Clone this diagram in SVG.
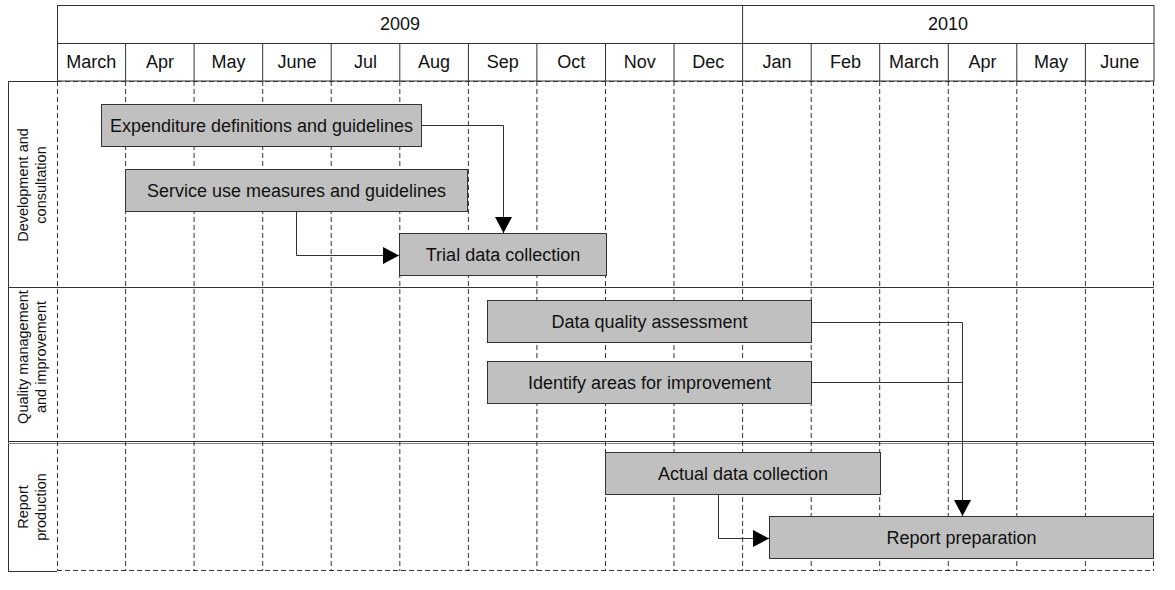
<svg xmlns="http://www.w3.org/2000/svg" width="1175" height="590" viewBox="0 0 1175 590">
<style>
.t{font-family:"Liberation Sans",Arial,sans-serif;font-size:18px;fill:#111;text-anchor:middle}
.l{font-family:"Liberation Sans",Arial,sans-serif;font-size:14.5px;fill:#111;text-anchor:middle}
.s{stroke:#333;stroke-width:1;fill:none}
.d{stroke:#333;stroke-width:1;fill:none;stroke-dasharray:5,3}
.bar{fill:#c0c0c0;stroke:#333;stroke-width:1}
.c{stroke:#333;stroke-width:1;fill:none}
</style>
<defs>
<marker id="ah" markerUnits="userSpaceOnUse" markerWidth="18" markerHeight="18" refX="16" refY="8.5" orient="auto">
<path d="M0,0 L16,8.5 L0,17 Z" fill="#000"/>
</marker>
</defs>
<rect width="1175" height="590" fill="#fff"/>
<g id="header">
<rect class="s" x="57.5" y="5.5" width="1096.5" height="75.5"/>
<line class="s" x1="57.5" y1="43.5" x2="1154" y2="43.5"/>
<line class="s" x1="742.6" y1="5.5" x2="742.6" y2="43.5"/>
<g class="s">
<line x1="125.6" y1="43.5" x2="125.6" y2="81"/>
<line x1="194.1" y1="43.5" x2="194.1" y2="81"/>
<line x1="262.7" y1="43.5" x2="262.7" y2="81"/>
<line x1="331.2" y1="43.5" x2="331.2" y2="81"/>
<line x1="399.8" y1="43.5" x2="399.8" y2="81"/>
<line x1="468.4" y1="43.5" x2="468.4" y2="81"/>
<line x1="536.9" y1="43.5" x2="536.9" y2="81"/>
<line x1="605.5" y1="43.5" x2="605.5" y2="81"/>
<line x1="674" y1="43.5" x2="674" y2="81"/>
<line x1="742.6" y1="43.5" x2="742.6" y2="81"/>
<line x1="811.2" y1="43.5" x2="811.2" y2="81"/>
<line x1="879.7" y1="43.5" x2="879.7" y2="81"/>
<line x1="948.3" y1="43.5" x2="948.3" y2="81"/>
<line x1="1016.8" y1="43.5" x2="1016.8" y2="81"/>
<line x1="1085.4" y1="43.5" x2="1085.4" y2="81"/>
</g>
<text class="t" x="400" y="30">2009</text>
<text class="t" x="948" y="30">2010</text>
<text class="t" x="91.3" y="68">March</text>
<text class="t" x="159.9" y="68">Apr</text>
<text class="t" x="228.4" y="68">May</text>
<text class="t" x="297" y="68">June</text>
<text class="t" x="365.5" y="68">Jul</text>
<text class="t" x="434.1" y="68">Aug</text>
<text class="t" x="502.7" y="68">Sep</text>
<text class="t" x="571.2" y="68">Oct</text>
<text class="t" x="639.8" y="68">Nov</text>
<text class="t" x="708.3" y="68">Dec</text>
<text class="t" x="776.9" y="68">Jan</text>
<text class="t" x="845.5" y="68">Feb</text>
<text class="t" x="914" y="68">March</text>
<text class="t" x="982.6" y="68">Apr</text>
<text class="t" x="1051.1" y="68">May</text>
<text class="t" x="1119.7" y="68">June</text>
</g>
<g id="grid">
<line class="s" x1="8.5" y1="81" x2="8.5" y2="572"/>
<line class="s" x1="8" y1="81.5" x2="57" y2="81.5"/>
<line class="d" x1="57" y1="81.5" x2="1154" y2="81.5"/>
<line class="s" x1="8" y1="571.5" x2="57" y2="571.5"/>
<line class="d" x1="57" y1="570.5" x2="1154" y2="570.5"/>
<line class="s" x1="8" y1="287.5" x2="1154" y2="287.5"/>
<line class="s" x1="8" y1="441.5" x2="1154" y2="441.5"/>
<line x1="8" y1="443.5" x2="1154" y2="443.5" stroke="#888" stroke-width="1"/>
<g class="d">
<line x1="57.5" y1="81" x2="57.5" y2="571"/>
<line x1="125.6" y1="81" x2="125.6" y2="571"/>
<line x1="194.1" y1="81" x2="194.1" y2="571"/>
<line x1="262.7" y1="81" x2="262.7" y2="571"/>
<line x1="331.2" y1="81" x2="331.2" y2="571"/>
<line x1="399.8" y1="81" x2="399.8" y2="571"/>
<line x1="468.4" y1="81" x2="468.4" y2="571"/>
<line x1="536.9" y1="81" x2="536.9" y2="571"/>
<line x1="605.5" y1="81" x2="605.5" y2="571"/>
<line x1="674" y1="81" x2="674" y2="571"/>
<line x1="742.6" y1="81" x2="742.6" y2="571"/>
<line x1="811.2" y1="81" x2="811.2" y2="571"/>
<line x1="879.7" y1="81" x2="879.7" y2="571"/>
<line x1="948.3" y1="81" x2="948.3" y2="571"/>
<line x1="1016.8" y1="81" x2="1016.8" y2="571"/>
<line x1="1085.4" y1="81" x2="1085.4" y2="571"/>
<line x1="1153.5" y1="81" x2="1153.5" y2="571"/>
</g>
</g>
<g id="lane-dev">
<text class="l" transform="translate(28,185) rotate(-90)">Development and</text>
<text class="l" transform="translate(46,185) rotate(-90)">consultation</text>
</g>
<g id="lane-quality">
<text class="l" transform="translate(28,357) rotate(-90)">Quality management</text>
<text class="l" transform="translate(46,357) rotate(-90)">and improvement</text>
</g>
<g id="lane-report">
<text class="l" transform="translate(28,507) rotate(-90)">Report</text>
<text class="l" transform="translate(46,507) rotate(-90)">production</text>
</g>
<g id="connectors">
<path class="c" d="M422,125.5 H503.5 V233" marker-end="url(#ah)"/>
<path class="c" d="M296.5,211 V255.5 H399" marker-end="url(#ah)"/>
<path class="c" d="M812,382.5 H962.5 V500"/>
<path class="c" d="M812,322.5 H962.5 V516" marker-end="url(#ah)"/>
<path class="c" d="M718.5,494 V538.5 H769" marker-end="url(#ah)"/>
</g>
<g id="n1"><rect class="bar" x="101.5" y="104.5" width="320" height="42"/><text class="t" x="261.5" y="132">Expenditure definitions and guidelines</text></g>
<g id="n2"><rect class="bar" x="125.5" y="169.5" width="342" height="42"/><text class="t" x="296.5" y="197">Service use measures and guidelines</text></g>
<g id="n3"><rect class="bar" x="399.5" y="233.5" width="207" height="42"/><text class="t" x="503" y="261">Trial data collection</text></g>
<g id="n4"><rect class="bar" x="487.5" y="300.5" width="324" height="42"/><text class="t" x="649.5" y="328">Data quality assessment</text></g>
<g id="n5"><rect class="bar" x="487.5" y="361.5" width="324" height="42"/><text class="t" x="649.5" y="389">Identify areas for improvement</text></g>
<g id="n6"><rect class="bar" x="605.5" y="452.5" width="275" height="42"/><text class="t" x="743" y="480">Actual data collection</text></g>
<g id="n7"><rect class="bar" x="769.5" y="516.5" width="384" height="42"/><text class="t" x="961.5" y="544">Report preparation</text></g>
</svg>
